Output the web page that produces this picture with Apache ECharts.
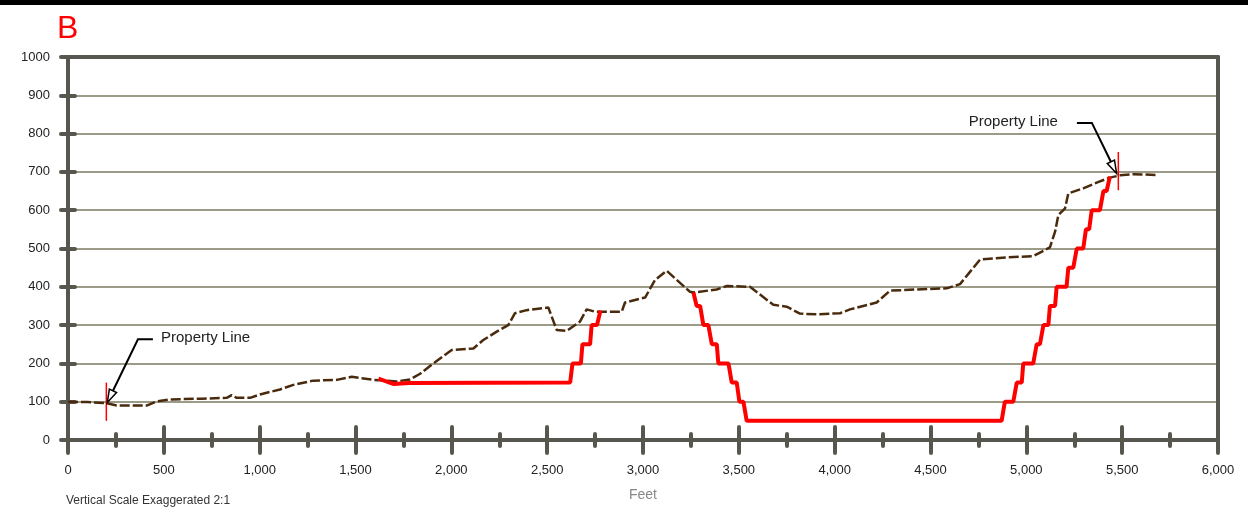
<!DOCTYPE html>
<html lang="en">
<head>
    <meta charset="UTF-8">
    <title>Profile B</title>
    <script src="https://cdn.jsdelivr.net/npm/echarts@6.0.0/dist/echarts.min.js"></script>
    <style>
        html, body { margin: 0; padding: 0; background: #fff; }
        #chart { width: 1248px; height: 512px; }
    </style>
</head>
<body>
<div id="chart"></div>
<script>
    // existing ground profile [feet, elevation]
    const groundProfile = [
        [0,100],[100,99],[202,96],[254,90],[410,90],[463,101],[532,106],[700,108],[828,110],[854,117],
        [880,110],[950,110],[1002,119],[1106,132],[1176,144],[1280,155],[1402,157],[1480,165],[1593,157],
        [1715,153],[1784,158],[1837,173],[1906,200],[2002,235],[2115,239],[2167,261],[2237,283],[2297,300],
        [2332,331],[2393,339],[2506,346],[2550,287],[2602,285],[2671,309],[2706,341],[2750,335],[2889,335],
        [2906,359],[3011,372],[3063,418],[3123,442],[3245,387],[3263,385],[3384,393],[3437,402],[3558,400],
        [3680,353],[3750,348],[3819,330],[3906,328],[4028,331],[4080,341],[4219,359],[4289,390],[4428,393],
        [4584,396],[4654,407],[4706,439],[4758,471],[4897,477],[5036,480],[5123,503],[5150,544],[5167,587],
        [5202,605],[5219,644],[5297,657],[5367,672],[5436,685],[5489,691],[5558,694],[5680,692]
    ];

    // proposed grade, west part
    const gradeWest = [
        [1620,160],[1700,146],[1780,149],[2620,150],[2632,200],[2676,200],[2684,250],[2724,250],
        [2732,300],[2760,300],[2778,338]
    ];

    // proposed grade, cut down to 50 and back up
    const gradeEast = [
        [3263,385],[3280,350],[3298,350],[3315,300],[3341,300],[3359,250],[3385,250],[3393,200],
        [3446,200],[3463,150],[3489,150],[3503,100],[3524,100],[3541,50],[4871,50],[4888,100],
        [4932,100],[4950,150],[4976,150],[4984,200],[5036,200],[5054,250],[5071,250],[5089,300],
        [5115,300],[5123,350],[5150,350],[5158,400],[5210,400],[5219,450],[5245,450],[5263,500],
        [5297,500],[5311,550],[5328,550],[5341,600],[5384,600],[5402,650],[5419,650],[5436,688]
    ];

    // property line callouts (data coords)
    const propLineLabels = ['Property Line', 'Property Line'];
    const propLineFeet = [200, 5480];
    const propLineMid = [100, 702];
    const arrowTip = [[205, 98], [5471, 696]];
    const leaderElbow = [[365, 263], [5342, 828]];
    const leaderEnd = [[443, 263], [5264, 828]];
    const labelAnchor = [[485, 266], [5165, 830]];

    const axisDark = '#58574f';
    const gridGray = '#9c9b88';

    const chart = echarts.init(document.getElementById('chart'));

    function renderCallout(params, api) {
        const i = params.dataIndex;
        const tip = api.coord(arrowTip[i]);
        const elbow = api.coord(leaderElbow[i]);
        const end = api.coord(leaderEnd[i]);
        const lbl = api.coord(labelAnchor[i]);
        const tickA = api.coord([propLineFeet[i], propLineMid[i] - 50]);
        const tickB = api.coord([propLineFeet[i], propLineMid[i] + 50]);
        const dx = tip[0] - elbow[0], dy = tip[1] - elbow[1];
        const len = Math.sqrt(dx*dx + dy*dy);
        const ux = dx/len, uy = dy/len;
        const bx = tip[0] - ux*13, by = tip[1] - uy*13;
        const nx = -uy*4, ny = ux*4;
        return {
            type: 'group',
            children: [
                {type: 'line', shape: {x1: tickA[0], y1: tickA[1], x2: tickB[0], y2: tickB[1]},
                    style: {stroke: '#ff0000', lineWidth: 1.5}},
                {type: 'polyline', shape: {points: [end, elbow, [bx, by]]},
                    style: {stroke: '#000', lineWidth: 2, fill: null}},
                {type: 'polygon', shape: {points: [tip, [bx+nx, by+ny], [bx-nx, by-ny]]},
                    style: {stroke: '#000', lineWidth: 1.5, fill: '#fff'}},
                {type: 'text', x: lbl[0], y: lbl[1],
                    style: {text: propLineLabels[i], fill: '#222', fontSize: 15,
                        fontFamily: 'Liberation Sans, Arial, sans-serif',
                        align: i === 0 ? 'left' : 'right', verticalAlign: 'middle'}}
            ]
        };
    }

    const tickStyle = {color: axisDark, width: 4, cap: 'round'};
    const frameLine = {show: true, onZero: false, lineStyle: {color: axisDark, width: 4}};

    chart.setOption({
        animation: false,
        backgroundColor: '#fff',
        textStyle: {fontFamily: 'Liberation Sans, Arial, sans-serif'},
        title: [
            {text: 'B', left: 57, top: 13, padding: 0,
                textStyle: {color: '#ff0000', fontSize: 32, fontWeight: 'normal'}},
            {text: 'Vertical Scale Exaggerated 2:1', left: 66, top: 495, padding: 0,
                textStyle: {color: '#333', fontSize: 12, fontWeight: 'normal'}}
        ],
        graphic: [
            {type: 'rect', left: 0, top: 0, shape: {width: 1248, height: 5}, style: {fill: '#000'}}
        ],
        grid: {left: 68, right: 30, top: 57, bottom: 72},
        xAxis: [
            {
                type: 'value', min: 0, max: 6000, interval: 500, z: 1,
                name: 'Feet', nameLocation: 'middle', nameGap: 48,
                nameTextStyle: {color: '#888', fontSize: 14},
                axisLine: frameLine,
                axisTick: {show: true, length: 13, lineStyle: tickStyle},
                minorTick: {show: true, splitNumber: 2, length: 6, lineStyle: tickStyle},
                splitLine: {show: false},
                axisLabel: {margin: 24, fontSize: 13, color: '#222',
                    formatter: v => v.toLocaleString('en-US')}
            },
            {
                type: 'value', min: 0, max: 6000, interval: 500, position: 'bottom', z: 1,
                axisLine: {show: false},
                axisTick: {show: true, inside: true, length: 13, lineStyle: tickStyle},
                minorTick: {show: true, splitNumber: 2, length: 6, lineStyle: tickStyle},
                splitLine: {show: false},
                axisLabel: {show: false}
            },
            {
                type: 'value', min: 0, max: 6000, position: 'top', z: 1,
                axisLine: frameLine,
                axisTick: {show: false}, splitLine: {show: false}, axisLabel: {show: false}
            }
        ],
        yAxis: [
            {
                type: 'value', min: 0, max: 1000, interval: 100, z: 1,
                axisLine: frameLine,
                axisTick: {show: true, length: 7, lineStyle: tickStyle},
                splitLine: {show: false},
                axisLabel: {margin: 18, fontSize: 13, color: '#222', formatter: v => String(v)}
            },
            {
                type: 'value', min: 0, max: 1000, interval: 100, position: 'left', z: 0,
                axisLine: {show: false},
                axisTick: {show: true, inside: true, length: 7, lineStyle: tickStyle},
                splitLine: {show: true, lineStyle: {color: gridGray, width: 2}},
                axisLabel: {show: false}
            },
            {
                type: 'value', min: 0, max: 1000, position: 'right', z: 1,
                axisLine: frameLine,
                axisTick: {show: false}, splitLine: {show: false}, axisLabel: {show: false}
            }
        ],
        series: [
            {
                name: 'Existing Ground', type: 'line', data: groundProfile, showSymbol: false, z: 3,
                lineStyle: {color: '#4a2a0c', width: 2.5, type: [10, 3]}
            },
            {
                name: 'Grade West', type: 'line', data: gradeWest, showSymbol: false, z: 4,
                lineStyle: {color: '#ff0000', width: 4}
            },
            {
                name: 'Grade East', type: 'line', data: gradeEast, showSymbol: false, z: 4,
                lineStyle: {color: '#ff0000', width: 4}
            },
            {
                name: 'Property Lines', type: 'custom', z: 6, clip: false,
                data: propLineFeet.map((x, i) => [x, propLineMid[i]]),
                renderItem: renderCallout
            }
        ]
    });
</script>
</body>
</html>
